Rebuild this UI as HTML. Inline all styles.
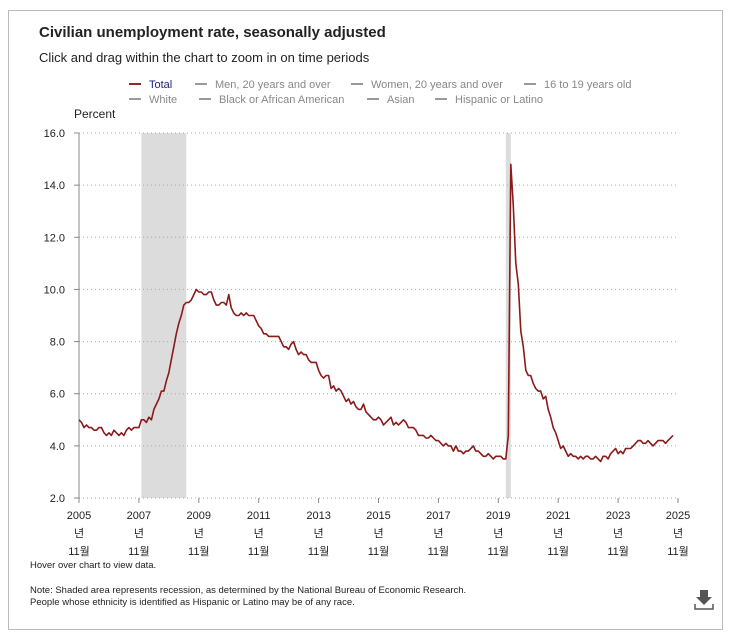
<!DOCTYPE html>
<html><head><meta charset="utf-8">
<style>
body{margin:0;background:#fff;font-family:"Liberation Sans","Noto Sans CJK KR",sans-serif;}
#wrap{position:relative;width:738px;height:636px;overflow:hidden;}
.frame{position:absolute;left:8px;top:10px;width:713px;height:618px;border:1px solid #bbb;}
.t{position:absolute;white-space:nowrap;color:#222;}
</style></head><body>
<div id="wrap">
<div class="frame"></div>
<div class="t" style="left:39px;top:24px;font-size:15px;font-weight:bold;">Civilian unemployment rate, seasonally adjusted</div>
<div class="t" style="left:39px;top:50px;font-size:13px;">Click and drag within the chart to zoom in on time periods</div>
<svg id="chart" width="738" height="636" style="position:absolute;left:0;top:0"></svg>
</div>
<script>
const years=["2005","2007","2009","2011","2013","2015","2017","2019","2021","2023","2025"];
const yTicks=[2,4,6,8,10,12,14,16];
const recessions=[[25,43],[171,173]];
const rates=[5.0,4.9,
4.7,4.8,4.7,4.7,4.6,4.6,4.7,4.7,4.5,4.4,4.5,4.4,
4.6,4.5,4.4,4.5,4.4,4.6,4.7,4.6,4.7,4.7,4.7,5.0,
5.0,4.9,5.1,5.0,5.4,5.6,5.8,6.1,6.1,6.5,6.8,7.3,
7.8,8.3,8.7,9.0,9.4,9.5,9.5,9.6,9.8,10.0,9.9,9.9,
9.8,9.8,9.9,9.9,9.6,9.4,9.4,9.5,9.5,9.4,9.8,9.3,
9.1,9.0,9.0,9.1,9.0,9.1,9.0,9.0,9.0,8.8,8.6,8.5,
8.3,8.3,8.2,8.2,8.2,8.2,8.2,8.0,7.8,7.8,7.7,7.9,
8.0,7.7,7.5,7.6,7.5,7.5,7.3,7.2,7.2,7.2,6.9,6.7,
6.6,6.7,6.7,6.2,6.3,6.1,6.2,6.1,5.9,5.7,5.8,5.6,
5.7,5.5,5.4,5.4,5.6,5.3,5.2,5.1,5.0,5.0,5.1,5.0,
4.8,4.9,5.0,5.1,4.8,4.9,4.8,4.9,5.0,4.9,4.7,4.7,
4.7,4.6,4.4,4.4,4.4,4.3,4.3,4.4,4.3,4.2,4.2,4.1,
4.0,4.1,4.0,4.0,3.8,4.0,3.8,3.8,3.7,3.8,3.8,3.9,
4.0,3.8,3.8,3.7,3.6,3.6,3.7,3.6,3.5,3.6,3.6,3.6,
3.5,3.5,4.4,14.8,13.2,11.0,10.2,8.4,7.8,6.9,6.7,6.7,
6.4,6.2,6.1,6.1,5.8,5.9,5.4,5.1,4.7,4.5,4.2,3.9,
4.0,3.8,3.6,3.7,3.6,3.6,3.5,3.6,3.5,3.6,3.6,3.5,
3.5,3.6,3.5,3.4,3.6,3.6,3.5,3.7,3.8,3.9,3.7,3.8,
3.7,3.9,3.9,3.9,4.0,4.1,4.2,4.2,4.1,4.1,4.2,4.1,
4.0,4.1,4.2,4.2,4.2,4.1,4.2,4.3,4.4];
const legendRow1=["Total","Men, 20 years and over","Women, 20 years and over","16 to 19 years old"];
const legendRow2=["White","Black or African American","Asian","Hispanic or Latino"];

const NS="http://www.w3.org/2000/svg";
const svg=document.getElementById('chart');
const X0=79,X1=678,Y0=498,Y1=133,NM=240;
const x=m=>X0+m*(X1-X0)/NM;
const y=v=>Y0-(v-2)*(Y0-Y1)/14;
function mk(tag,attrs,parent){const e=document.createElementNS(NS,tag);for(const k in attrs)e.setAttribute(k,attrs[k]);(parent||svg).appendChild(e);return e;}

recessions.forEach((r,i)=>{
 const e=mk('rect',{x:x(r[0]),y:Y1,width:x(r[1])-x(r[0]),height:Y0-Y1,fill:'#dcdcdc'});
 
 
});
yTicks.forEach(v=>{
 const g=mk('line',{x1:X0,x2:X1,y1:y(v),y2:y(v),stroke:'#aaa','stroke-dasharray':'1,3'});
 
 
 mk('line',{x1:X0-5,x2:X0,y1:y(v),y2:y(v),stroke:'#888'});
 const t=mk('text',{x:X0-14,y:y(v)+4,'text-anchor':'end','font-size':11,fill:'#222'});
 t.textContent=v.toFixed(1);
 
 
});
const ax=mk('line',{x1:X0,x2:X0,y1:Y1,y2:Y0,stroke:'#888'});


const yt=mk('text',{x:74,y:118,'font-size':12,fill:'#222'});yt.textContent='Percent';


years.forEach((yr,i)=>{
 const xx=x(i*24);
 mk('line',{x1:xx,x2:xx,y1:Y0,y2:Y0+5,stroke:'#888'});
 const lines=[yr,'년','11월'];
 lines.forEach((s,j)=>{
  const t=mk('text',{x:xx,y:519+j*18,'text-anchor':'middle','font-size':11,fill:'#222'});
  t.textContent=s;
  
  
 });
});
const pts=rates.map((v,i)=>x(i).toFixed(1)+','+y(v).toFixed(1)).join(' ');
const pl=mk('polyline',{points:pts,fill:'none',stroke:'#8b1a1a','stroke-width':1.6,'stroke-linejoin':'round'});



function legend(row,yy,xs){row.forEach((s,i)=>{
 const c=(yy===84&&i===0)?'#8b2b2b':'#999';
 const g=mk('g',{});
 
 
 mk('line',{x1:xs[i],x2:xs[i]+12,y1:yy,y2:yy,stroke:c,'stroke-width':2},g);
 const t=mk('text',{x:xs[i]+20,y:yy+4,'font-size':11,fill:(yy===84&&i===0)?'#1a237e':'#888'},g);
 t.textContent=s;
});}
legend(legendRow1,84,[129,195,351,524]);
legend(legendRow2,99,[129,199,367,435]);

const notes=[[568,'Hover over chart to view data.'],[593,'Note: Shaded area represents recession, as determined by the National Bureau of Economic Research.'],[605,'People whose ethnicity is identified as Hispanic or Latino may be of any race.']];
notes.forEach(n=>{const t=mk('text',{x:30,y:n[0],'font-size':9.5,fill:'#222'});t.textContent=n[1];
 
 });
const dl=mk('g',{});


mk('rect',{x:700,y:590,width:8,height:8,fill:'#555'},dl);
mk('polygon',{points:'696,597 712,597 704,605',fill:'#555'},dl);
mk('polyline',{points:'695,604 695,609 713,609 713,604',fill:'none',stroke:'#555','stroke-width':1.5},dl);
</script>
</body></html>
